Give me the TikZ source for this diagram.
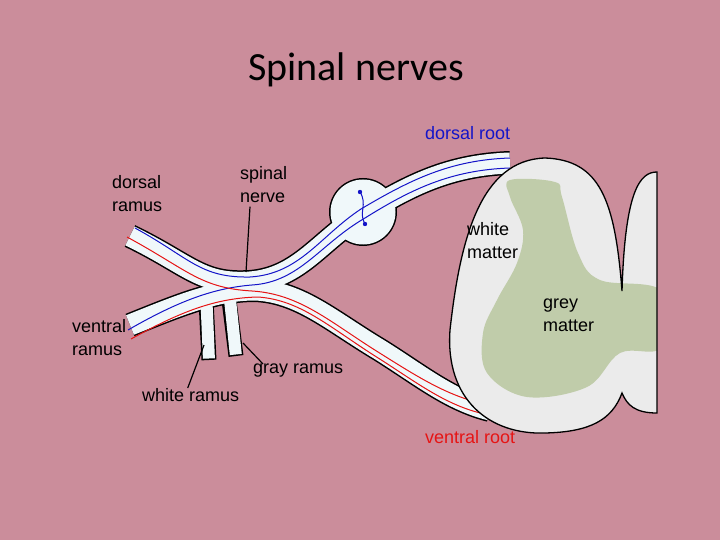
\documentclass[tikz,border=0pt]{standalone}
\usepackage{fontspec}
\setmainfont{Liberation Sans}
\newfontfamily\titlefont{Carlito}
\usetikzlibrary{positioning}
\definecolor{bgpink}{RGB}{203,141,155}
\definecolor{tubewhite}{RGB}{240,248,250}
\definecolor{cordwhite}{RGB}{235,235,235}
\definecolor{greygreen}{RGB}{192,204,170}
\definecolor{fibreblue}{RGB}{20,20,200}
\definecolor{fibrered}{RGB}{230,20,20}
\newcommand\dorsalpath{(130,236) .. controls (190,265) and (200,285) .. (250,282) .. controls (300,278) and (320,240) .. (363,214) .. controls (410,185) and (450,165) .. (510,163)}
\newcommand\ventralpath{(130,325) .. controls (180,305) and (215,290) .. (255,290) .. controls (300,292) and (330,320) .. (380,350) .. controls (420,375) and (450,400) .. (490,410)}
\newcommand\whiteramus{(206,300) -- (209,360)}
\newcommand\grayramus{(229,300) -- (236,356)}
\newcommand\cordpath{(622,290)
  .. controls (615,200) and (600,160) .. (545,158)
  .. controls (480,160) and (460,240) .. (450,330)
  .. controls (445,400) and (490,435) .. (545,433)
  .. controls (590,432) and (612,420) .. (622,393)
  .. controls (627,405) and (635,413) .. (657,413)
  -- (657,172)
  .. controls (640,172) and (625,190) .. cycle}
\begin{document}
\begin{tikzpicture}[x=1pt,y=-1pt,
  tube/.style={line width=#1, line cap=butt},
  label/.style={align=left, anchor=north west, inner sep=0pt, font=\fontsize{18}{23}\selectfont},
  leader/.style={line width=1.2pt}]
\fill[bgpink] (0,0) rectangle (720,540);
\useasboundingbox (0,0) rectangle (720,540);
\node (title) at (356,70) {\titlefont\fontsize{40}{44}\selectfont Spinal nerves};

% nerve outline, then fill
\draw[tube=24pt] \dorsalpath;
\draw[tube=24pt] \ventralpath;
\draw[tube=15pt] \whiteramus;
\draw[tube=15pt] \grayramus;
\fill (363,212) circle (34);
\draw[tube=21pt, tubewhite] \dorsalpath;
\draw[tube=21pt, tubewhite] \ventralpath;
\draw[tube=12pt, tubewhite] (206,290) -- (208.9,358.5);
\draw[tube=12pt, tubewhite] (229,290) -- (235.8,354.5);
\fill[tubewhite] (363,212) circle (32.5);

% fibres
\draw[fibreblue, line width=1pt] (135,228) .. controls (190,258) and (200,278) .. (250,277) .. controls (300,274) and (320,236) .. (361,209) .. controls (410,180) and (450,160) .. (510,158);
\draw[fibreblue, line width=1pt] (128,330) .. controls (180,300) and (215,288) .. (252,285) .. controls (300,282) and (320,244) .. (365,218) .. controls (410,190) and (450,170) .. (510,168);
\draw[fibrered, line width=1pt] (127,237) .. controls (188,270) and (200,288) .. (252,291) .. controls (300,294) and (330,322) .. (378,352) .. controls (418,377) and (450,398) .. (490,405);
\draw[fibrered, line width=1pt] (131,339) .. controls (180,312) and (215,298) .. (258,297) .. controls (300,300) and (328,326) .. (375,356) .. controls (415,381) and (448,408) .. (490,415);
\draw[fibreblue, line width=1pt] (360,192) .. controls (368,205) and (358,212) .. (365,224);
\fill[fibreblue] (360,192) circle (2.2) (365,224) circle (2.2);

% spinal cord
\fill[cordwhite] \cordpath;
\begin{scope}
\clip \cordpath;
\fill[greygreen] plot[smooth cycle, tension=0.6] coordinates {(510,180) (555,182) (562,197) (578,253) (600,280) (662,291) (662,347) (620,353) (587,387) (527,397) (487,373) (483,333) (497,300) (517,263) (523,230) (510,197)};
\end{scope}
\draw[line width=1.3pt] (622,291)
  .. controls (615,200) and (600,160) .. (545,158)
  .. controls (480,160) and (460,240) .. (450,330)
  .. controls (445,400) and (490,435) .. (545,433)
  .. controls (590,432) and (612,420) .. (622,393)
  .. controls (627,405) and (635,413) .. (657,413)
  -- (657,172)
  .. controls (640,172) and (625,190) .. (622,291);

% labels
\node[label] (dramus) at (112,175) {dorsal\\ramus};
\node[label] (snerve) at (240,166) {spinal\\nerve};
\node[label] (vramus) at (72,319) {ventral\\ramus};
\node[label] (wramus) at (142,388) {white ramus};
\node[label] (gramus) at (253,364) {gray ramus};
\node[label, text=fibreblue] (droot) at (425,126) {dorsal root};
\node[label, text=fibrered] (vroot) at (425,430) {ventral root};
\node[label] (wmatter) at (467,222) {white\\matter};
\node[label] (gmatter) at (543,299) {grey\\matter};

% leaders
\coordinate (snervetip) at (246,272);
\coordinate (wramustip) at (204,345);
\coordinate (gramustip) at (243,343);
\draw[leader] (snerve.south west) ++(10,4) -- (snervetip);
\draw[leader] (wramus.north) ++(-3,0) -- (wramustip);
\draw[leader] (gramus.north west) ++(10,0) -- (gramustip);
\end{tikzpicture}
\end{document}
